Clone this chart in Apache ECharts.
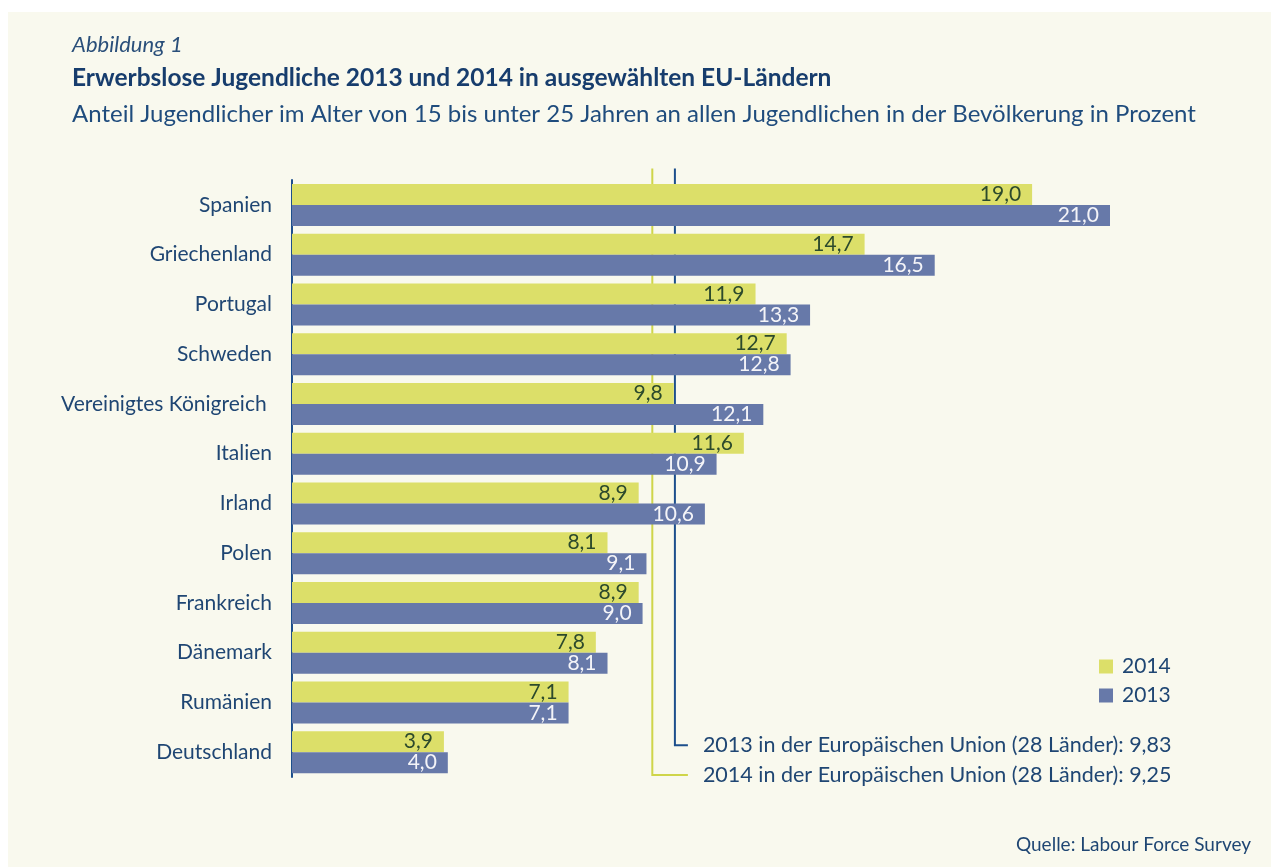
<!DOCTYPE html>
<html>
<head>
<meta charset="utf-8">
<script src="https://cdn.jsdelivr.net/npm/echarts@6/dist/echarts.min.js"></script>
<style>
html,body{margin:0;padding:0;background:#ffffff;}
#c{width:1271px;height:867px;}
</style>
</head>
<body>
<div id="c"></div>
<script>
const categories = ['Spanien','Griechenland','Portugal','Schweden','Vereinigtes Königreich ','Italien','Irland','Polen','Frankreich','Dänemark','Rumänien','Deutschland'];
const values2014 = [19.0,14.7,11.9,12.7,9.8,11.6,8.9,8.1,8.9,7.8,7.1,3.9];
const values2013 = [21.0,16.5,13.3,12.8,12.1,10.9,10.6,9.1,9.0,8.1,7.1,4.0];
const refValues = [9.83, 9.25];
const refLabels = ['2013 in der Europäischen Union (28 Länder): 9,83','2014 in der Europäischen Union (28 Länder): 9,25'];
const seriesNames = ['2014','2013'];

const YELLOW = '#dcdf69';
const BLUE = '#6779a9';
const NAVY = '#1d4f8c';
const TEXT = '#1f4673';
const FONT = 'Lato, "Open Sans", sans-serif';

const fmt = v => v.toFixed(1).replace('.', ',');

const chart = echarts.init(document.getElementById('c'), null, {renderer:'canvas'});

const refColors = [NAVY, '#cfd54a'];
const hookOffsets = [-0.14, 0.46];

const option = {
  backgroundColor: '#ffffff',
  animation: false,
  graphic: [
    {type:'rect', left:8, top:12, shape:{width:1263, height:855}, style:{fill:'#f9f9ee'}, z:-10, silent:true},
    {type:'text', left:72, top:34, style:{text:'Abbildung 1', font:'italic 22px '+FONT, fill:'#2a4f7a'}},
    {type:'text', left:72, top:66, style:{text:'Erwerbslose Jugendliche 2013 und 2014 in ausgewählten EU-Ländern', font:'bold 24.5px '+FONT, fill:'#173d6d'}},
    {type:'text', left:72, top:102, style:{text:'Anteil Jugendlicher im Alter von 15 bis unter 25 Jahren an allen Jugendlichen in der Bevölkerung in Prozent', font:'24px '+FONT, fill:'#1f4c7d'}},
    {type:'text', right:20, top:835, style:{text:'Quelle: Labour Force Survey', font:'19px '+FONT, fill:TEXT}}
  ],
  legend: {
    data: seriesNames,
    orient: 'vertical',
    left: 1094,
    top: 651,
    itemWidth: 14,
    itemHeight: 14,
    itemGap: 8,
    icon: 'rect',
    textStyle: {fontFamily: FONT, fontSize: 21, color: TEXT, padding:[0,0,0,4]}
  },
  grid: {left: 292, right: 161, top: 180, bottom: 90, containLabel: false},
  xAxis: {
    type: 'value', min: 0, max: 21,
    show: false
  },
  yAxis: {
    type: 'category',
    data: categories,
    inverse: true,
    axisLine: {show: true, lineStyle: {color: NAVY, width: 2}},
    axisTick: {show: false},
    axisLabel: {fontFamily: FONT, fontSize: 21, color: TEXT, margin: 20}
  },
  series: [
    {
      name: seriesNames[0], type: 'bar', data: values2014, z: 3,
      barWidth: 21, barGap: '0%',
      itemStyle: {color: YELLOW},
      label: {show: true, position: 'insideRight', distance: 11, formatter: p => fmt(p.value),
        fontFamily: FONT, fontSize: 21, color: '#2c4a2c'}
    },
    {
      name: seriesNames[1], type: 'bar', data: values2013, z: 3,
      barWidth: 21,
      itemStyle: {color: BLUE},
      label: {show: true, position: 'insideRight', distance: 11, formatter: p => fmt(p.value),
        fontFamily: FONT, fontSize: 21, color: '#f4f4f8'}
    },
    {
      type: 'custom', z: 1, silent: true,
      coordinateSystem: 'cartesian2d',
      encode: {x: 0, y: 1},
      data: refValues.map((v, i) => [v, categories.length - 1, i]),
      renderItem: function (params, api) {
        const i = api.value(2);
        const v = api.value(0);
        const band = api.size([0, 1])[1];
        const topPt = api.coord([v, 0]);
        const botPt = api.coord([v, categories.length - 1]);
        const maxX = Math.max.apply(null, refValues.map(r => api.coord([r, 0])[0]));
        const x = topPt[0];
        const yTop = topPt[1] - band * 0.73;
        const yHook = botPt[1] + band * hookOffsets[i];
        const xEnd = maxX + 13;
        return {
          type: 'group',
          children: [
            {type:'polyline', shape:{points:[[x, yTop],[x, yHook],[xEnd, yHook]]},
              style:{stroke: refColors[i], lineWidth: 2, fill: null}},
            {type:'text', style:{text: refLabels[i], x: xEnd + 15, y: yHook, verticalAlign:'middle', align:'left',
              font: '21.5px ' + FONT, fill: TEXT}}
          ]
        };
      }
    }
  ]
};
chart.setOption(option);
</script>
</body>
</html>
